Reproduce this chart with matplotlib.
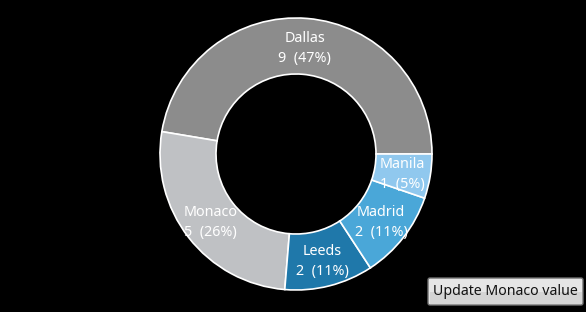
import numpy as np
import matplotlib
matplotlib.use("Agg")
import matplotlib.pyplot as plt
from matplotlib.patches import FancyBboxPatch

categories = ["Dallas", "Monaco", "Leeds", "Madrid", "Manila"]
values = [9, 5, 2, 2, 1]
colors = ["#8c8c8c", "#bfc1c4", "#1f78aa", "#4aa7d8", "#90c8ee"]
button_label = "Update Monaco value"

W, H = 586, 312
fig = plt.figure(figsize=(W / 100, H / 100), dpi=100, facecolor="black")
ax = fig.add_axes([0, 0, 1, 1])
ax.set_facecolor("black")

cx, cy = 296, H - 154
R, ring = 136, 56
wedges, _ = ax.pie(values, colors=colors, startangle=0, counterclock=True,
                   center=(cx, cy), radius=R, frame=True,
                   wedgeprops=dict(width=ring, edgecolor="white", linewidth=1.2))
ax.set_xlim(0, W)
ax.set_ylim(0, H)
ax.axis("off")

total = sum(values)
font = ["Noto Sans", "DejaVu Sans"]
for w, cat, v in zip(wedges, categories, values):
    mid = np.deg2rad((w.theta1 + w.theta2) / 2)
    r = R - ring / 2
    x = cx + r * np.cos(mid)
    y = cy + r * np.sin(mid) - 2.5
    pct = round(100 * v / total)
    ax.text(x, y, f"{cat}\n{v}  ({pct}%)", ha="center", va="center",
            color="white", fontsize=10.3, family=font, linespacing=1.45)

# button
bx0, by0, bw, bh = 428, H - 305, 155, 27
btn = FancyBboxPatch((bx0, by0), bw, bh, boxstyle="round,pad=0,rounding_size=2",
                     facecolor="#e6e6e6", edgecolor="#707070", linewidth=1)
ax.add_patch(btn)
ax.add_patch(FancyBboxPatch((bx0 + 1.5, by0 + 1.5), bw - 3, bh / 2 - 1.5,
                            boxstyle="square,pad=0", facecolor="#d4d4d4",
                            edgecolor="none"))
ax.text(bx0 + bw / 2, by0 + bh / 2, button_label, ha="center", va="center",
        color="#111111", fontsize=10.2, family=font)

fig.savefig("out.png", dpi=100, facecolor="black")
